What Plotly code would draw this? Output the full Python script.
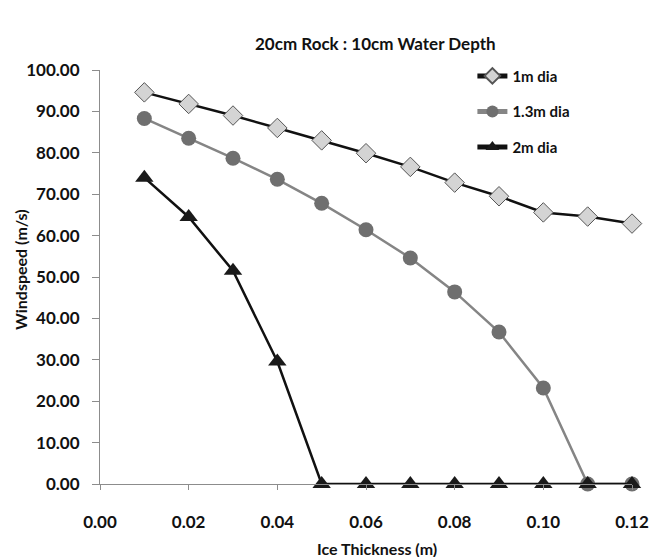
import plotly.graph_objects as go

ice_thickness = [0.01, 0.02, 0.03, 0.04, 0.05, 0.06, 0.07, 0.08, 0.09, 0.10, 0.11, 0.12]
dia_1m = [94.6, 91.8, 89.0, 86.0, 83.0, 79.9, 76.6, 72.8, 69.5, 65.6, 64.6, 62.9]
dia_1_3m = [88.3, 83.5, 78.7, 73.6, 67.8, 61.4, 54.6, 46.4, 36.7, 23.2, 0.0, 0.0]
dia_2m = [74.0, 64.5, 51.5, 29.6, 0.0, 0.0, 0.0, 0.0, 0.0, 0.0, 0.0, 0.0]
series_names = ["1m dia", "1.3m dia", "2m dia"]
x_ticks = [0.00, 0.02, 0.04, 0.06, 0.08, 0.10, 0.12]
y_ticks = [0, 10, 20, 30, 40, 50, 60, 70, 80, 90, 100]
chart_title = "20cm Rock : 10cm Water Depth"
x_title = "Ice Thickness (m)"
y_title = "Windspeed (m/s)"

FONT = "Lato"
TXT = "#111111"

fig = go.Figure()
fig.add_trace(go.Scatter(
    x=ice_thickness, y=dia_1m, name=series_names[0], mode="lines+markers",
    legendgroup="a", cliponaxis=False,
    line=dict(color="#111111", width=2.5),
    marker=dict(symbol="diamond", size=15, color="#d4d4d4",
                line=dict(color="#555555", width=1)),
))
fig.add_trace(go.Scatter(
    x=ice_thickness, y=dia_1_3m, name=series_names[1], mode="lines+markers",
    legendgroup="b", cliponaxis=False,
    line=dict(color="#858585", width=2.5),
    marker=dict(symbol="circle", size=15, color="#6f6f6f",
                line=dict(color="#6f6f6f", width=0)),
))
fig.add_trace(go.Scatter(
    x=ice_thickness, y=dia_2m, name=series_names[2], mode="lines+markers",
    legendgroup="c", cliponaxis=False,
    line=dict(color="#111111", width=2.5),
    marker=dict(symbol="triangle-up", size=16, color="#1a1a1a",
                line=dict(color="#1a1a1a", width=0)),
))

fig.update_layout(
    width=652, height=557,
    paper_bgcolor="white", plot_bgcolor="white",
    margin=dict(l=100, r=20, t=70, b=73, autoexpand=False),
    font=dict(family=FONT, color=TXT, size=15),
    showlegend=True,
    legend=dict(x=0.70, y=1.025, xanchor="left", yanchor="top", itemsizing="constant",
                bgcolor="rgba(0,0,0,0)", font=dict(size=15, family=FONT, color=TXT, weight="bold"),
                traceorder="grouped", tracegroupgap=13, itemwidth=30),
    xaxis=dict(
        range=[0, 0.12], tickvals=x_ticks, tickformat=".2f", automargin=False,
        showgrid=False, zeroline=False, showline=True, linecolor="#8c8c8c", linewidth=1,
        ticks="outside", ticklen=5, tickcolor="#8c8c8c", ticklabelstandoff=18,
        tickfont=dict(size=17, family=FONT, color=TXT, weight="bold"),
    ),
    yaxis=dict(
        range=[0, 100], tickvals=y_ticks, tickformat=".2f", automargin=False,
        showgrid=False, zeroline=False, showline=True, linecolor="#8c8c8c", linewidth=1,
        ticks="outside", ticklen=7, tickcolor="#8c8c8c", ticklabelstandoff=9,
        tickfont=dict(size=17, family=FONT, color=TXT, weight="bold"),
    ),
    annotations=[
        dict(text=f"<b>{chart_title}</b>", xref="paper", yref="paper",
             x=(375 - 100) / 532, y=(484 - 44) / 414, xanchor="center", yanchor="middle",
             showarrow=False, font=dict(size=17, family=FONT, color=TXT)),
        dict(text=f"<b>{x_title}</b>", xref="paper", yref="paper",
             x=(377 - 100) / 532, y=(484 - 548) / 414, xanchor="center", yanchor="middle",
             showarrow=False, font=dict(size=16, family=FONT, color=TXT)),
        dict(text=f"<b>{y_title}</b>", xref="paper", yref="paper", textangle=-90,
             x=(20 - 100) / 532, y=(484 - 270) / 414, xanchor="center", yanchor="middle",
             showarrow=False, font=dict(size=16, family=FONT, color=TXT)),
    ],
)

fig.write_html(
    "out.html",
    config={"displayModeBar": False},
    post_script="document.body.style.margin='0px';document.body.style.overflow='hidden';",
)
